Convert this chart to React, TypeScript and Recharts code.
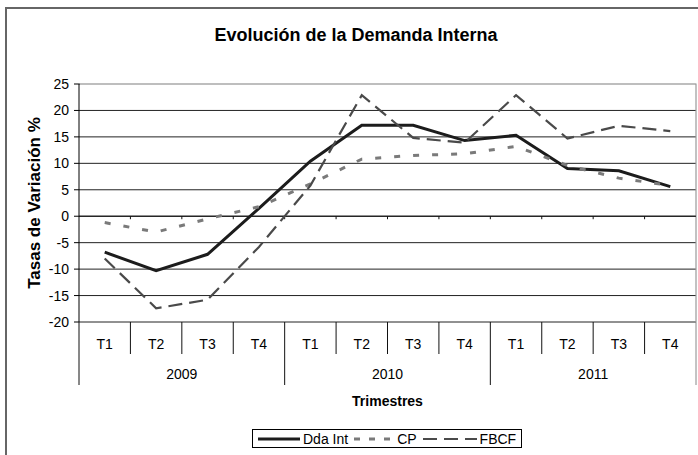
import React from 'react';
import {
  LineChart,
  Line,
  XAxis,
  YAxis,
  CartesianGrid,
  ReferenceLine,
  ReferenceArea,
  Legend,
} from 'recharts';

const FONT = '"Liberation Sans", Arial, Helvetica, sans-serif';

const quarters = ['T1', 'T2', 'T3', 'T4', 'T1', 'T2', 'T3', 'T4', 'T1', 'T2', 'T3', 'T4'];
const years = ['2009', '2009', '2009', '2009', '2010', '2010', '2010', '2010', '2011', '2011', '2011', '2011'];
const ddaInt = [-6.8, -10.3, -7.2, 1.5, 10.4, 17.2, 17.2, 14.3, 15.3, 9.0, 8.6, 5.6];
const cp = [-1.2, -3.0, -0.5, 1.8, 6.1, 10.8, 11.5, 11.8, 13.2, 9.6, 7.2, 5.8];
const fbcf = [-8.0, -17.4, -15.8, -5.8, 5.8, 22.9, 14.8, 13.9, 22.9, 14.7, 17.1, 16.1];
const yTicks = [-20, -15, -10, -5, 0, 5, 10, 15, 20, 25];

const seriesNames = ['Dda Int', 'CP', 'FBCF'];
const title = 'Evolución de la Demanda Interna';
const yTitle = 'Tasas de Variación %';
const xTitle = 'Trimestres';

const data = quarters.map((q, i) => ({
  id: `${years[i]} ${q}`,
  q,
  year: years[i],
  ddaInt: ddaInt[i],
  cp: cp[i],
  fbcf: fbcf[i],
}));

const W = 698;
const H = 455;
const MARGIN = { top: 84, right: 2, bottom: 7, left: 0 };
const Y_AXIS_W = 79;
const PLOT_W = W - MARGIN.left - MARGIN.right - Y_AXIS_W;
const BAND = PLOT_W / quarters.length;

const series = [
  { key: 'ddaInt', name: seriesNames[0], color: '#1c1c1c', width: 3, dash: undefined as string | undefined, legendDash: undefined as string | undefined, sw: 42 },
  { key: 'cp', name: seriesNames[1], color: '#7a7a7a', width: 3, dash: '6 13', legendDash: '6 9', sw: 40 },
  { key: 'fbcf', name: seriesNames[2], color: '#4a4a4a', width: 2.2, dash: '14 7', legendDash: '14 7', sw: 54 },
];

const tickIndex = (props: any) => {
  const p = props.payload || {};
  if (typeof p.index === 'number') return p.index;
  if (typeof props.index === 'number') return props.index;
  const k = data.findIndex((d) => d.id === p.value);
  return k < 0 ? 0 : k;
};

const QuarterTick = (props: any) => {
  const { x, y } = props;
  const i = tickIndex(props);
  const left = x - BAND / 2;
  return (
    <g>
      <line x1={left} y1={y} x2={left} y2={y + 32} stroke="#111" strokeWidth={1} />
      {i === quarters.length - 1 && (
        <line x1={x + BAND / 2} y1={y} x2={x + BAND / 2} y2={y + 32} stroke="#888" strokeWidth={1} />
      )}
      <text x={x} y={y + 27} textAnchor="middle" fontSize={14} fill="#000" fontFamily={FONT}>
        {quarters[i]}
      </text>
    </g>
  );
};

const YearTick = (props: any) => {
  const { x, y } = props;
  const i = tickIndex(props);
  return (
    <g>
      {i % 4 === 0 && (
        <line x1={x - BAND / 2} y1={y} x2={x - BAND / 2} y2={y + 31} stroke="#111" strokeWidth={1} />
      )}
      {i === quarters.length - 1 && (
        <line x1={x + BAND / 2} y1={y} x2={x + BAND / 2} y2={y + 31} stroke="#888" strokeWidth={1} />
      )}
      {i % 4 === 1 && (
        <text x={x + BAND / 2} y={y + 25} textAnchor="middle" fontSize={14} fill="#000" fontFamily={FONT}>
          {years[i]}
        </text>
      )}
    </g>
  );
};

const XTitle = (props: any) => {
  const vb = props.viewBox || {};
  const cx = (vb.x ?? 0) + (vb.width ?? 0) / 2;
  return (
    <text x={cx} y={(vb.y ?? 0) + 52} textAnchor="middle" fontSize={14} fontWeight="bold" fill="#000" fontFamily={FONT}>
      {xTitle}
    </text>
  );
};

const YTitle = (props: any) => {
  const vb = props.viewBox || {};
  const cx = 34;
  const cy = (vb.y ?? 0) + (vb.height ?? 0) / 2;
  return (
    <text
      x={cx}
      y={cy}
      transform={`rotate(-90, ${cx}, ${cy})`}
      textAnchor="middle"
      dominantBaseline="central"
      fontSize={17}
      fontWeight="bold"
      fill="#000"
      fontFamily={FONT}
    >
      {yTitle}
    </text>
  );
};

const ZeroAxis = (props: any) => {
  const { x1, y1, x2 } = props;
  const n = quarters.length;
  const step = (x2 - x1) / n;
  const ticks = [];
  for (let k = 1; k < n; k++) {
    const tx = x1 + k * step;
    ticks.push(<line key={k} x1={tx} y1={y1} x2={tx} y2={y1 + 3} stroke="#111" strokeWidth={1} />);
  }
  return (
    <g>
      <line x1={x1} y1={y1} x2={x2} y2={y1} stroke="#111" strokeWidth={1} />
      {ticks}
    </g>
  );
};

const PlotBorder = (props: any) => {
  const { x, y, width, height } = props;
  if (x == null) return null;
  return (
    <g>
      <line x1={x + 1} y1={y} x2={x + width} y2={y} stroke="#fff" strokeWidth={1.5} />
      <path d={`M${x + 1},${y} H${x + width} V${y + height}`} fill="none" stroke="#9a9a9a" strokeWidth={1.2} />
    </g>
  );
};

const LegendBox = () => (
  <div style={{ display: 'flex', justifyContent: 'flex-start' }}>
    <div
      style={{
        marginLeft: 252,
        display: 'flex',
        alignItems: 'center',
        border: '1px solid #000',
        height: 19,
        boxSizing: 'border-box',
        padding: '0 5px 0 5px',
        fontFamily: FONT,
        fontSize: 14,
        color: '#000',
        background: '#fff',
        whiteSpace: 'nowrap',
      }}
    >
      {series.map((s, i) => (
        <div key={s.key} style={{ display: 'flex', alignItems: 'center', marginLeft: i === 0 ? 0 : 6 }}>
          <svg width={s.sw} height={8} style={{ display: 'block' }}>
            <line
              x1={0}
              y1={4}
              x2={s.sw}
              y2={4}
              stroke={s.color}
              strokeWidth={s.width}
              strokeDasharray={s.legendDash}
            />
          </svg>
          <span style={{ marginLeft: 3 }}>{s.name}</span>
        </div>
      ))}
    </div>
  </div>
);

export default function App() {
  return (
    <div
      style={{
        position: 'absolute',
        left: 0,
        top: 0,
        width: W,
        height: H,
        background: '#fff',
        overflow: 'hidden',
        fontFamily: FONT,
      }}
    >
      <div
        style={{
          position: 'absolute',
          left: 5,
          top: 7,
          width: W,
          height: H,
          borderTop: '2px solid #666',
          borderLeft: '2px solid #666',
          boxSizing: 'border-box',
        }}
      />
      <svg width={W} height={60} style={{ position: 'absolute', left: 0, top: 0 }}>
        <text x={356} y={41} textAnchor="middle" fontSize={18} fontWeight="bold" fill="#000" fontFamily={FONT}>
          {title}
        </text>
      </svg>
      <div style={{ position: 'absolute', left: 0, top: 0 }}>
        <LineChart width={W} height={H} data={data} margin={MARGIN}>
          <CartesianGrid xAxisId="q" yAxisId="v" vertical={false} horizontal stroke="#222" strokeWidth={1} />
          <ReferenceArea xAxisId="q" yAxisId="v" y1={-20} y2={25} shape={<PlotBorder />} ifOverflow="visible" />
          <XAxis
            xAxisId="q"
            dataKey="id"
            type="category"
            scale="band"
            height={32}
            axisLine={false}
            tickLine={false}
            tickSize={0}
            tickMargin={0}
            interval={0}
            tick={<QuarterTick />}
          />
          <XAxis
            xAxisId="yr"
            dataKey="id"
            type="category"
            scale="band"
            height={75}
            axisLine={false}
            tickLine={false}
            tickSize={0}
            tickMargin={0}
            interval={0}
            tick={<YearTick />}
            label={<XTitle />}
          />
          <YAxis
            yAxisId="v"
            width={Y_AXIS_W}
            domain={[-20, 25]}
            ticks={yTicks}
            interval={0}
            allowDataOverflow
            axisLine={{ stroke: '#000', strokeWidth: 1 }}
            tickLine={{ stroke: '#000', strokeWidth: 1 }}
            tickSize={5}
            tickMargin={5}
            tick={{ fontSize: 14, fill: '#000', fontFamily: FONT }}
            label={<YTitle />}
          />
          <ReferenceLine xAxisId="q" yAxisId="v" y={0} shape={<ZeroAxis />} />
          <Legend verticalAlign="bottom" align="left" content={<LegendBox />} wrapperStyle={{ left: 0, width: W, height: 19 }} />
          {series.map((s) => (
            <Line
              key={s.key}
              xAxisId="q"
              yAxisId="v"
              type="linear"
              dataKey={s.key}
              name={s.name}
              stroke={s.color}
              strokeWidth={s.width}
              strokeDasharray={s.dash}
              dot={false}
              activeDot={false}
              isAnimationActive={false}
            />
          ))}
        </LineChart>
      </div>
    </div>
  );
}
